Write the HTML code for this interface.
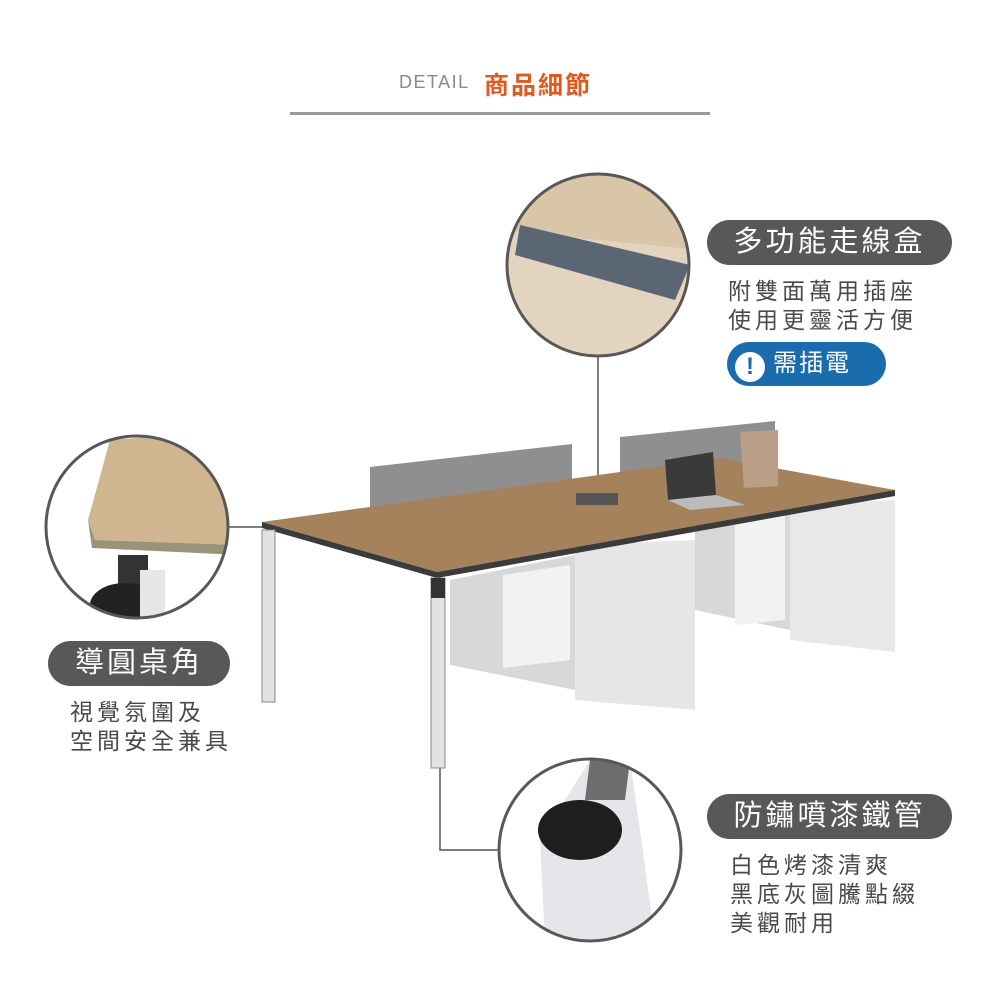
<!DOCTYPE html>
<html><head><meta charset="utf-8"><style>
body{margin:0;width:1000px;height:1000px;background:#fff;position:relative;overflow:hidden;font-family:"Liberation Sans","Noto Sans CJK TC",sans-serif}
.abs{position:absolute}
.pill{position:absolute;background:#595757;color:#fff;border-radius:23px;font-size:29px;letter-spacing:3px;text-align:center;line-height:45px;height:45px}
.txt{position:absolute;color:#4a4a4a;font-size:23px;letter-spacing:4px;line-height:29px}
</style></head><body>
<div class="abs" style="left:399px;top:72px;font-size:18px;color:#8a8a8a;letter-spacing:1.5px">DETAIL</div>
<div class="abs" style="left:484px;top:66px;font-size:25px;color:#e05a1e;font-weight:bold;letter-spacing:2px">商品細節</div>
<div class="abs" style="left:290px;top:112px;width:420px;height:3px;background:#9a9a9a"></div>

<svg class="abs" style="left:0;top:0" width="1000" height="1000">
 <defs>
  <clipPath id="c1"><circle cx="598" cy="265" r="90"/></clipPath>
  <clipPath id="c2"><circle cx="137" cy="527" r="90"/></clipPath>
  <clipPath id="c3"><circle cx="590" cy="850" r="90"/></clipPath>
 </defs>
 <line x1="598" y1="356" x2="598" y2="492" stroke="#555" stroke-width="1.5"/>
 <line x1="228" y1="527" x2="276" y2="527" stroke="#555" stroke-width="1.5"/>
 <polyline points="440,688 440,850 500,850" fill="none" stroke="#555" stroke-width="1.5"/>

 <polygon points="450,580 575,555 575,690 450,665" fill="#d8d8d8"/>
 <polygon points="575,545 695,540 695,710 575,700" fill="#e6e6e6"/>
 <polygon points="503,575 570,565 570,660 503,668" fill="#f2f2f2"/>
 <polygon points="695,520 790,510 790,630 695,610" fill="#d8d8d8"/>
 <polygon points="790,505 895,500 895,652 790,640" fill="#e8e8e8"/>
 <polygon points="735,520 785,515 785,620 735,625" fill="#f2f2f2"/>
 <polygon points="370,467 572,444 572,510 370,532" fill="#8f8f8f"/>
 <polygon points="620,437 775,421 775,485 620,497" fill="#8f8f8f"/>
 <polygon points="262,522 437,572 895,490 720,458" fill="#a5825c"/>
 <polygon points="262,522 437,572 437,578 262,528" fill="#3b3b3b"/>
 <polygon points="437,572 895,490 895,496 437,578" fill="#3b3b3b"/>
 <polygon points="665,460 713,452 716,495 668,500" fill="#3a3a3a"/>
 <polygon points="668,500 716,495 745,505 690,510" fill="#bbb"/>
 <polygon points="740,432 778,430 778,486 744,488" fill="#b99f86"/>
 <rect x="576" y="493" width="42" height="12" fill="#555"/>
 <rect x="262" y="530" width="13" height="172" fill="#e2e2e2" stroke="#888"/>
 <rect x="431" y="578" width="14" height="190" fill="#e2e2e2" stroke="#888"/>
 <rect x="431" y="578" width="14" height="20" fill="#333"/>

 <g clip-path="url(#c1)">
  <rect x="500" y="170" width="200" height="200" fill="#e3d4bf"/>
  <polygon points="500,170 700,170 700,250 500,230" fill="#d9c6a9"/>
  <polygon points="520,225 690,265 675,300 515,255" fill="#5b6675"/>
 </g>
 <circle cx="598" cy="265" r="91" fill="none" stroke="#595757" stroke-width="3"/>
 <g clip-path="url(#c2)">
  <rect x="40" y="430" width="200" height="200" fill="#fff"/>
  <polygon points="110,440 240,430 240,545 95,540 88,520" fill="#cfb691"/>
  <polygon points="88,520 95,540 240,545 240,555 92,548" fill="#9a9378"/>
  <rect x="118" y="555" width="30" height="40" fill="#333"/>
  <ellipse cx="125" cy="605" rx="35" ry="22" fill="#222"/>
  <rect x="140" y="570" width="25" height="60" fill="#e6e6e6"/>
 </g>
 <circle cx="137" cy="527" r="91" fill="none" stroke="#595757" stroke-width="3"/>
 <g clip-path="url(#c3)">
  <rect x="495" y="755" width="200" height="200" fill="#fff"/>
  <polygon points="590,760 630,760 640,830 655,940 545,940 540,840" fill="#e4e6ea"/>
  <polygon points="590,760 630,760 625,800 585,800" fill="#6d6d6d"/>
  <ellipse cx="580" cy="830" rx="42" ry="30" fill="#1e1e1e"/>
 </g>
 <circle cx="590" cy="850" r="91" fill="none" stroke="#595757" stroke-width="3"/>
</svg>

<div class="pill" style="left:707px;top:220px;width:245px">多功能走線盒</div>
<div class="txt" style="left:728px;top:277px">附雙面萬用插座<br>使用更靈活方便</div>
<div class="abs" style="left:727px;top:342px;width:159px;height:44px;border-radius:22px;background:#1b6cad;color:#fff;font-size:24px;line-height:44px;letter-spacing:2px">
 <span style="display:inline-block;width:30px;height:30px;border-radius:15px;background:#fff;color:#1b6cad;text-align:center;line-height:30px;font-weight:bold;margin:0 8px 0 8px;vertical-align:-3px;letter-spacing:0">!</span>需插電</div>

<div class="pill" style="left:48px;top:641px;width:182px">導圓桌角</div>
<div class="txt" style="left:70px;top:698px">視覺氛圍及<br>空間安全兼具</div>

<div class="pill" style="left:707px;top:794px;width:245px">防鏽噴漆鐵管</div>
<div class="txt" style="left:730px;top:851px">白色烤漆清爽<br>黑底灰圖騰點綴<br>美觀耐用</div>
</body></html>
